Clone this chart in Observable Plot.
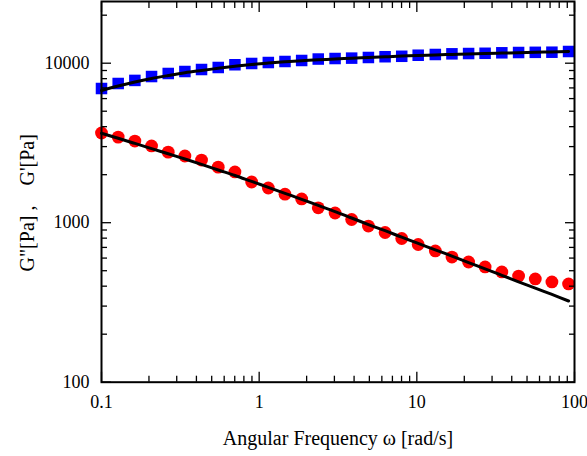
<!DOCTYPE html>
<html><head><meta charset="utf-8">
<script src="https://cdn.jsdelivr.net/npm/d3@7"></script>
<script src="https://cdn.jsdelivr.net/npm/@observablehq/plot@0.6"></script>
<style>body{margin:0;background:#fff}</style>
</head><body><div id="chart"></div>
<script>
const freq = [0.1, 0.1276, 0.1628, 0.2077, 0.265, 0.338, 0.431, 0.55, 0.702, 0.896, 1.143, 1.458, 1.86, 2.37, 3.03, 3.86, 4.93, 6.29, 8.02, 10.2, 13.1, 16.7, 21.3, 27.1, 34.6, 44.2, 56.4, 71.9, 91.7];
const storageModulus = [6940, 7460, 7800, 8250, 8620, 8870, 9130, 9400, 9780, 9960, 10100, 10250, 10400, 10620, 10700, 10760, 10860, 10980, 11050, 11220, 11340, 11450, 11500, 11540, 11620, 11670, 11700, 11720, 11840];
const lossModulus = [3650, 3440, 3250, 3030, 2770, 2620, 2470, 2230, 2080, 1800, 1650, 1510, 1410, 1240, 1150, 1047, 953, 868, 796, 730, 665, 609, 567, 528, 491, 463, 444, 425, 413];
const storageFit = [6740, 7200, 7630, 8020, 8370, 8710, 9000, 9290, 9560, 9810, 10030, 10220, 10370, 10500, 10630, 10750, 10860, 10970, 11080, 11180, 11270, 11350, 11440, 11500, 11570, 11640, 11700, 11770, 11840];
const lossFit = [3636, 3382, 3141, 2915, 2704, 2508, 2320, 2140, 1977, 1815, 1667, 1529, 1402, 1284, 1175, 1070, 974, 891, 811, 741, 676, 617, 562, 513, 468, 426, 389, 355, 323];
const xTicks = [0.1, 1, 10, 100];
const xMinor = [0.2,0.3,0.4,0.5,0.6,0.7,0.8,0.9,2,3,4,5,6,7,8,9,20,30,40,50,60,70,80,90];
const yTicks = [100, 1000, 10000];
const yMinor = [200,300,400,500,600,700,800,900,2000,3000,4000,5000,6000,7000,8000,9000,20000];
const xLabel = "Angular Frequency \u03c9 [rad/s]";
const yLabel = "G\"[Pa] ,\u00a0\u00a0\u00a0 G'[Pa]";

const pts = freq.map((f, i) => ({f, gs: storageModulus[i], gl: lossModulus[i], fs: storageFit[i], fl: lossFit[i]}));
const blank = () => "";

const chart = Plot.plot({
  width: 587, height: 456,
  marginLeft: 101, marginRight: 13, marginTop: 1, marginBottom: 74.3,
  style: {fontFamily: "'Liberation Serif', serif", fontSize: "18px", background: "#fff", color: "#000"},
  x: {type: "log", domain: [0.1, 100]},
  y: {type: "log", domain: [100, 24370]},
  marks: [
    Plot.dot(pts, {x: "f", y: "gs", symbol: "square", r: 6.5, fill: "#0000ff", stroke: "none"}),
    Plot.dot(pts, {x: "f", y: "gl", symbol: "circle", r: 6.4, fill: "#ff0000", stroke: "none"}),
    Plot.line(pts, {x: "f", y: "fs", stroke: "#000", strokeWidth: 3, curve: "catmull-rom"}),
    Plot.line(pts, {x: "f", y: "fl", stroke: "#000", strokeWidth: 3, curve: "catmull-rom"}),
    Plot.axisX(xTicks, {anchor: "bottom", tickSize: 0, tickPadding: 13, tickFormat: d => String(d), label: null, fontSize: 18}),
    Plot.axisX(xTicks, {anchor: "bottom", tickSize: -10, tickFormat: blank, label: null, strokeWidth: 1.3}),
    Plot.axisX(xMinor, {anchor: "bottom", tickSize: -6, tickFormat: blank, label: null, strokeWidth: 1.3}),
    Plot.axisX(xTicks, {anchor: "top", tickSize: -10, tickFormat: blank, label: null, strokeWidth: 1.3}),
    Plot.axisX(xMinor, {anchor: "top", tickSize: -6, tickFormat: blank, label: null, strokeWidth: 1.3}),
    Plot.axisY(yTicks, {anchor: "left", tickSize: 0, tickPadding: 12, tickFormat: d => String(d), label: null, fontSize: 18}),
    Plot.axisY(yTicks, {anchor: "left", tickSize: -10, tickFormat: blank, label: null, strokeWidth: 1.3}),
    Plot.axisY(yMinor, {anchor: "left", tickSize: -6, tickFormat: blank, label: null, strokeWidth: 1.3}),
    Plot.axisY(yTicks, {anchor: "right", tickSize: -10, tickFormat: blank, label: null, strokeWidth: 1.3}),
    Plot.axisY(yMinor, {anchor: "right", tickSize: -6, tickFormat: blank, label: null, strokeWidth: 1.3}),
    Plot.frame({stroke: "#000", strokeWidth: 2}),
    Plot.text([xLabel], {text: d => d, frameAnchor: "bottom", dy: 56, fontSize: 20, textAnchor: "middle", lineAnchor: "middle"}),
    Plot.text([yLabel], {text: d => d, frameAnchor: "left", dx: -74, dy: 11, rotate: -90, fontSize: 20, textAnchor: "middle", lineAnchor: "middle"})
  ]
});
document.getElementById("chart").appendChild(chart);
</script>
</body></html>
